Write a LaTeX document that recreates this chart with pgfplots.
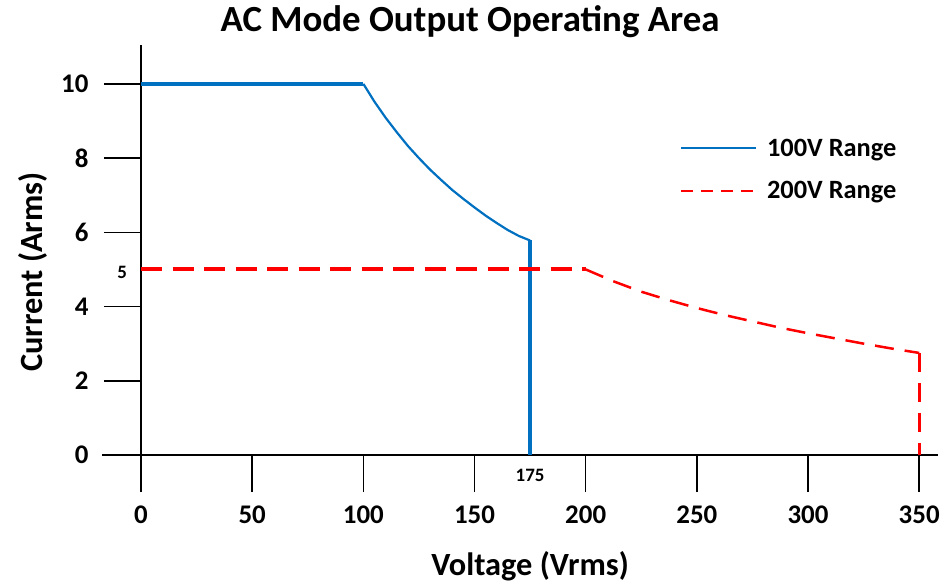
\documentclass[border=0pt]{standalone}
\usepackage{pgfplots}
\pgfplotsset{compat=1.18}
\usepackage{fontspec}
\setmainfont{Carlito}

\definecolor{lineblue}{RGB}{0,112,192}
\definecolor{linered}{RGB}{255,0,0}

\begin{document}
\begin{tikzpicture}
\begin{axis}[
    scale only axis,
    width=836bp, height=445bp,
    xmin=-17.5, xmax=358.5,
    ymin=-0.94, ymax=11.05,
    axis lines=middle,
    axis line style={-, line width=1.6bp, black},
    hide obscured x ticks=false,
    hide obscured y ticks=false,
    xtick={0,50,...,350},
    ytick={0,2,...,10},
    tick align=outside,
    major tick length=37bp,
    tick style={line width=1.6bp, black},
    /pgf/number format/assume math mode=true,
    ticklabel style={font=\fontsize{27}{27}\selectfont\bfseries},
    yticklabel style={xshift=-12bp},
    xticklabel style={yshift=-10bp},
    clip=false,
    legend style={at={(axis cs:241,8.63)}, anchor=north west, draw=none, fill=none,
        font=\fontsize{26.5}{26.5}\selectfont\bfseries, row sep=20bp,
        /tikz/every odd column/.append style={column sep=8bp}},
    legend cell align=left,
    legend image code/.code={\draw[#1] (0bp,0bp) -- (75bp,0bp);},
]
\addlegendimage{lineblue, line width=2bp}
\addlegendentry{100V Range}
\addlegendimage{linered, line width=2bp, dash pattern=on 12bp off 8bp}
\addlegendentry{200V Range}

% 100V range
\addplot[lineblue, line width=3.3bp, forget plot] coordinates {(0,10) (100,10)};
\addplot[lineblue, line width=2.2bp, forget plot] coordinates {
    (100,10) (105,9.52) (110,9.09) (115,8.70) (120,8.33) (125,8.00) (130,7.69)
    (135,7.41) (140,7.14) (145,6.90) (150,6.67) (155,6.45) (160,6.25)
    (165,6.06) (170,5.90) (175,5.78)};
\addplot[lineblue, line width=3.3bp, forget plot] coordinates {(175,5.78) (175,0)};

% 200V range
\addplot[linered, line width=4bp, dash pattern=on 21bp off 10.5bp, forget plot] coordinates {(0,5) (200,5)};
\addplot[linered, line width=2.5bp, dash pattern=on 19bp off 11bp, forget plot] coordinates {
    (200,5) (212.5,4.68) (225,4.4) (237.5,4.17) (250,3.96) (262.5,3.77) (275,3.6)
    (287.5,3.43) (300,3.28) (312.5,3.14) (325,3.0) (337.5,2.87) (350,2.75)};
\addplot[linered, line width=3bp, dash pattern=on 19bp off 11bp, forget plot] coordinates {(350,2.75) (350,0)};

\node[font=\fontsize{37}{37}\selectfont\bfseries, anchor=base] at (axis cs:148,11.4) {AC Mode Output Operating Area};
\node[font=\fontsize{32.5}{32.5}\selectfont\bfseries, anchor=base] at (axis cs:175,-3.26) {Voltage (Vrms)};
\node[font=\fontsize{32.5}{32.5}\selectfont\bfseries, rotate=90] at (axis cs:-48.6,4.93) {Current (Arms)};
\node[font=\fontsize{19}{19}\selectfont\bfseries] at (axis cs:-8.5,4.93) {5};
\node[font=\fontsize{19}{19}\selectfont\bfseries] at (axis cs:175,-0.54) {175};

\coordinate (o) at (axis cs:0,0);
\end{axis}
\pgfresetboundingbox
\path[use as bounding box] (o) ++(-141bp,-131bp) rectangle ++(944bp,586bp);
\end{tikzpicture}
\end{document}
